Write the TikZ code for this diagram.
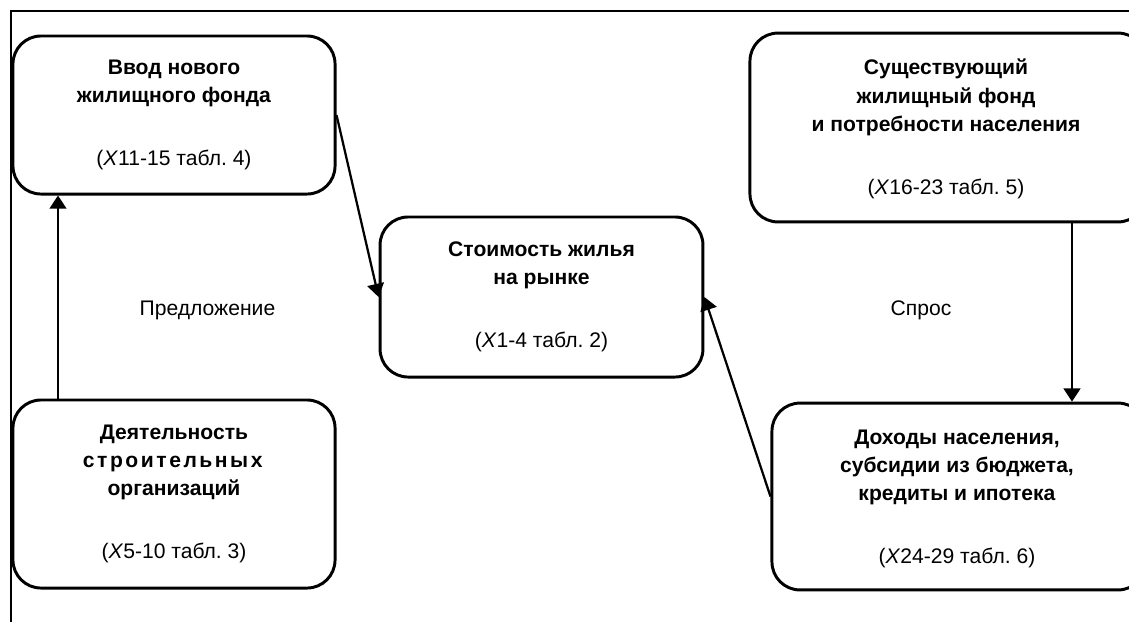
\documentclass[tikz,border=0pt]{standalone}
\usepackage{fontspec}
\setmainfont{Liberation Sans}
\usetikzlibrary{arrows.meta, calc}
\frenchspacing

\begin{document}
\begin{tikzpicture}[x=0.025cm, y=-0.025cm, font=\fontsize{15}{20}\selectfont]
	\def\gap{25pt}
		\tikzset	{
		block/.style={draw, line width=2.1pt, rounded corners=0.7cm, align=center, inner sep=0pt},
		arrow/.style={line width=1.6pt, -{Triangle[length=0.33cm, width=0.42cm]}},
	}

	\useasboundingbox (0,0) rectangle (1129,621);
	\clip (0,0) rectangle (1129,621);

	% frame
	\draw[line width=0.8pt]	(11,700) -- (11,11) -- (1200,11);

	\node[block, minimum width=8.05cm, minimum height=3.95cm] (input) at (174,115)
		{\textbf{Ввод нового}\\\textbf{жилищного фонда}\\[\gap](\textit{X}11-15 табл. 4)};
	\node[block, minimum width=8.07cm, minimum height=4cm] (price) at (541.5,297)
		{\textbf{Стоимость жилья}\\\textbf{на рынке}\\[\gap](\textit{X}1-4 табл. 2)};
	\node[block, minimum width=8.05cm, minimum height=4.7cm] (builders) at (174,494)
		{\textbf{Деятельность}\\{\addfontfeature{LetterSpace=12}\textbf{строительных}}\\\textbf{организаций}\\[\gap](\textit{X}5-10 табл. 3)};

	% right boxes run off the page
	\node[block, minimum width=9.9cm, minimum height=4.72cm] (stock) at (948,127.5) {};
	\node[align=center] (stocktext) at (946,129)
		{\textbf{Существующий}\\\textbf{жилищный фонд}\\\textbf{и потребности населения}\\[\gap](\textit{X}16-23 табл. 5)};
	\node[block, minimum width=9.35cm, minimum height=4.67cm] (income) at (959,496.5) {};
	\node[align=center] (incometext) at (957,499)
		{\textbf{Доходы населения,}\\\textbf{субсидии из бюджета,}\\\textbf{кредиты и ипотека}\\[\gap](\textit{X}24-29 табл. 6)};

	\node (supply) at (207.5,310) {Предложение};
	\node (demand) at (921,310) {Спрос};

	\coordinate (upx) at (58,0);
	\coordinate (downx) at (1072,0);

	\draw[arrow]	(builders.north -| upx) -- (input.south -| upx);
	\draw[arrow]	(input.east) -- (price.west);
	\draw[arrow]	(stock.south -| downx) -- (income.north -| downx);
	\draw[arrow]	(income.west) -- (price.east);
\end{tikzpicture}
\end{document}
